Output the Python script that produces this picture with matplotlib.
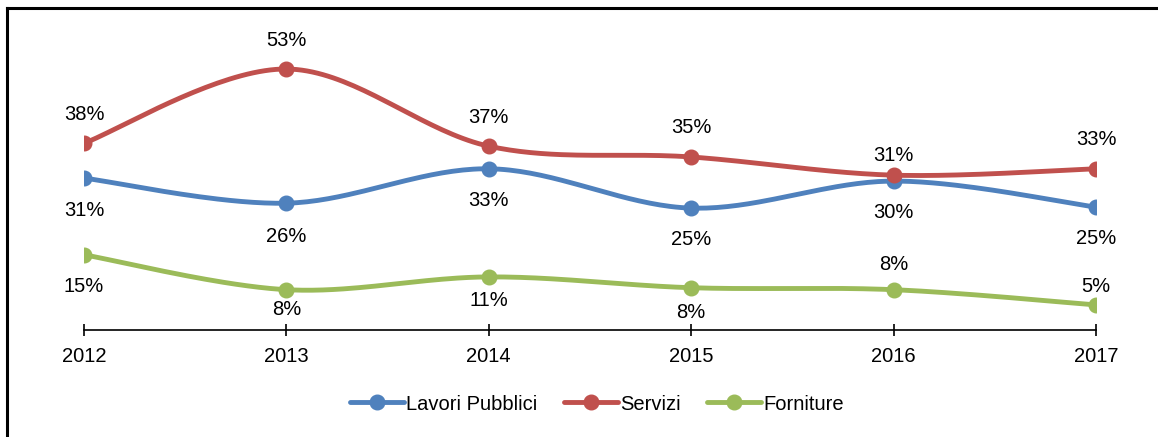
import numpy as np
import matplotlib
matplotlib.use("Agg")
import matplotlib.pyplot as plt
from matplotlib.lines import Line2D

plt.rcParams['font.family'] = ['Liberation Sans Narrow', 'Liberation Sans', 'DejaVu Sans']

# Data (percentages)
years = [2012, 2013, 2014, 2015, 2016, 2017]
lavori = [30.8, 25.7, 32.7, 24.7, 30.2, 24.9]
servizi = [37.9, 53.0, 37.3, 35.1, 31.4, 32.7]
forniture = [15.2, 8.1, 10.7, 8.5, 8.1, 5.0]

series_names = ["Lavori Pubblici", "Servizi", "Forniture"]
colors = ["#4F81BD", "#C0504D", "#9BBB59"]

# vertical offset of each data label (pixels, negative = above)
label_offsets = [
    [32, 33, 32, 31, 31, 31],
    [-29, -29, -29, -29, -20, -29],
    [32, 20, 24, 25, -25, -18],
]


def smooth(x, y, n=40):
    # Excel-like smoothed line: Catmull-Rom as cubic Bezier segments
    x = np.asarray(x, float)
    y = np.asarray(y, float)
    px = np.concatenate([[x[0]], x, [x[-1]]])
    py = np.concatenate([[y[0]], y, [y[-1]]])
    t = np.linspace(0, 1, n)
    xs, ys = [], []
    for i in range(len(x) - 1):
        p0 = np.array([px[i + 1], py[i + 1]])
        p3 = np.array([px[i + 2], py[i + 2]])
        c1 = p0 + (p3 - np.array([px[i], py[i]])) / 6
        c2 = p3 - (np.array([px[i + 3], py[i + 3]]) - p0) / 6
        b = ((1 - t) ** 3)[:, None] * p0 + (3 * (1 - t) ** 2 * t)[:, None] * c1 \
            + (3 * (1 - t) * t ** 2)[:, None] * c2 + (t ** 3)[:, None] * p3
        xs.append(b[:, 0])
        ys.append(b[:, 1])
    return np.concatenate(xs), np.concatenate(ys)


fig = plt.figure(figsize=(11.58, 4.37), dpi=100)
H = 437.0
W = 1158.0
ax = fig.add_axes([84 / W, 1 - 329.5 / H, (1096 - 84) / W, (329.5 - 34.6) / H])

for name, vals, col, offs in zip(series_names, [lavori, servizi, forniture], colors, label_offsets):
    sx, sy = smooth(years, vals)
    ax.plot(sx, sy, color=col, lw=3.5, solid_capstyle='round', zorder=2)
    ax.plot(years, vals, 'o', color=col, ms=10.5, zorder=3)
    for xv, yv, off in zip(years, vals, offs):
        ax.annotate(f"{yv:.0f}%", (xv, yv), xytext=(0, -off * 0.72), textcoords='offset points',
                    ha='center', va='center', fontsize=14.5, color='black')

ax.set_xlim(2012, 2017)
ax.set_ylim(0, 60)
ax.set_xticks(years)
ax.set_xticklabels([str(y) for y in years], fontsize=14.5)
ax.set_yticks([])
for s in ['top', 'right', 'left']:
    ax.spines[s].set_visible(False)
ax.spines['bottom'].set_linewidth(1.2)
ax.tick_params(axis='x', direction='inout', length=9, width=1.2, pad=8)

handles = [Line2D([0], [0], color=c, lw=3.5, marker='o', ms=10.5, solid_capstyle='round') for c in colors]
fig.legend(handles, series_names, loc='center', bbox_to_anchor=(597 / W, 1 - 404 / H), ncol=3,
           frameon=False, fontsize=14.5, handlelength=2.7, columnspacing=1.3, handletextpad=0.1)

# outer chart frame (top and left visible)
fig.add_artist(Line2D([7 / W, 1.0], [1 - 7.5 / H, 1 - 7.5 / H], color='black', lw=2.2, transform=fig.transFigure))
fig.add_artist(Line2D([7.5 / W, 7.5 / W], [0, 1 - 7.5 / H], color='black', lw=2.2, transform=fig.transFigure))

fig.savefig("out.png", dpi=100)
